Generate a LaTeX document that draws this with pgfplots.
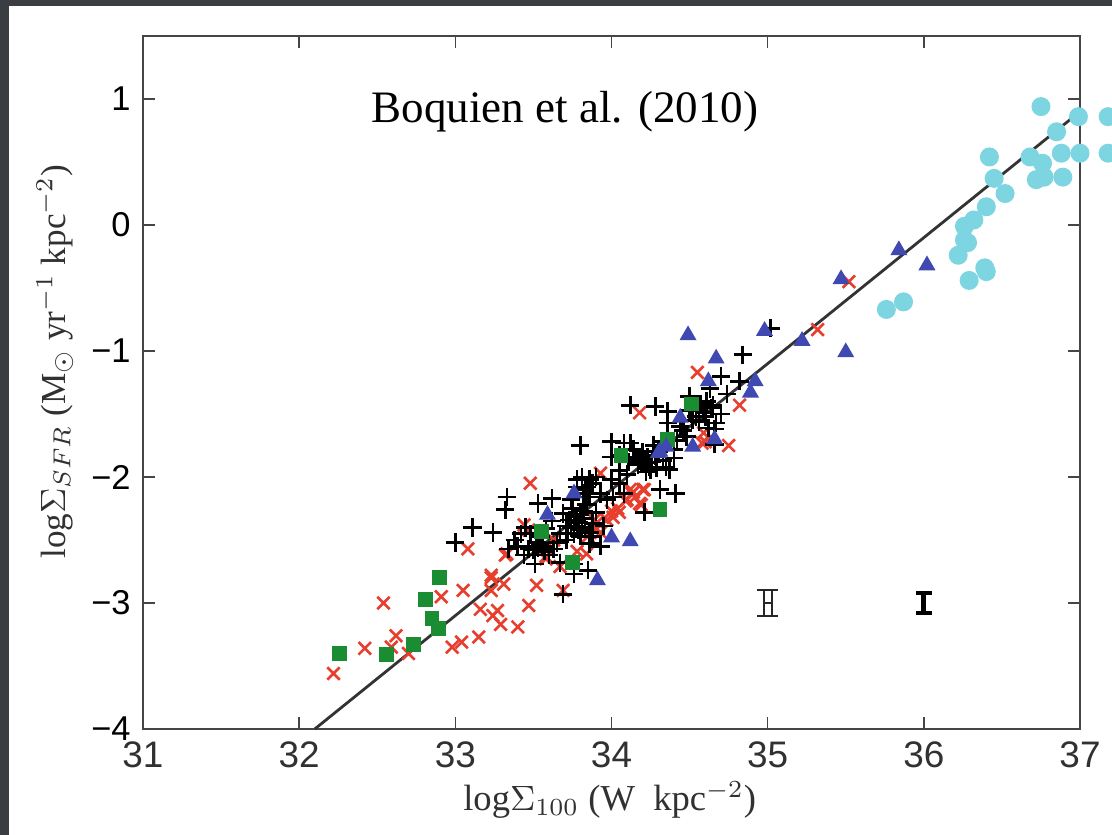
\documentclass[border=0pt]{standalone}
\usepackage{pgfplots}
\pgfplotsset{compat=1.18}
\usepackage{fontspec}
\setmainfont{Liberation Serif}
\setsansfont{Liberation Sans}
\definecolor{darkbg}{RGB}{58,61,66}
\definecolor{redx}{RGB}{232,62,45}
\definecolor{bluet}{RGB}{64,72,178}
\definecolor{greens}{RGB}{26,140,50}
\definecolor{cyanc}{RGB}{125,213,225}
\definecolor{axgray}{RGB}{70,70,70}
\begin{document}
\begin{tikzpicture}
\clip (0,0) rectangle (111.2mm,-83.5mm);
\fill[darkbg] (0,0) rectangle (111.2mm,-83.5mm);
\fill[white] (0.85mm,-0.6mm) rectangle (111.2mm,-83.5mm);
\begin{axis}[
  at={(14.3mm,-72.9mm)}, anchor=south west,
  scale only axis, width=93.7mm, height=69.3mm,
  xmin=31, xmax=37, ymin=-4, ymax=1.5,
  clip=false,
  xtick={31,32,33,34,35,36,37},
  xticklabels={31,32,33,34,35,36,37},
  ytick={-4,-3,-2,-1,0,1},
  yticklabels={−4,−3,−2,−1,0,1},
  tick align=inside,
  major tick length=1.2mm,
  axis line style={line width=0.6pt, color=axgray},
  every tick/.style={axgray, line width=0.45pt},
  xticklabel style={font=\sffamily\fontsize{10.5}{12}\selectfont, text=axgray!70!black},
  yticklabel style={font=\sffamily\fontsize{9.8}{11}\selectfont, text=black},
  xlabel={log$\Sigma_{100}$ (W\ \ kpc$^{-2}$)},
  ylabel={log$\Sigma_{SFR}$ (M$_\odot$ yr$^{-1}$ kpc$^{-2}$)},
  xlabel style={at={(axis description cs:0.498,-0.102)}, anchor=center, font=\fontsize{10.4}{12}\selectfont, text=axgray!70!black},
  ylabel style={at={(axis description cs:-0.094,0.53)}, anchor=center, rotate=0, font=\fontsize{10}{12}\selectfont, text=axgray!70!black},
]
% fit line
\addplot[draw=black!80, line width=0.8pt, no marks] coordinates {(32.1,-4) (37,0.9)};
% red crosses
\addplot[only marks, mark=x, mark size=2.5pt, mark options={line width=0.75pt, draw=redx}] coordinates {
(32.22,-3.56)(32.42,-3.36)(32.59,-3.35)(32.62,-3.26)(32.70,-3.40)(32.54,-3.00)(32.91,-2.95)(32.98,-3.35)
(33.04,-3.31)(33.15,-3.27)(33.05,-2.90)(33.16,-3.05)(33.23,-2.80)(33.23,-2.90)(33.31,-2.85)(33.27,-3.06)
(33.24,-3.10)(33.29,-3.17)(33.40,-3.19)(33.08,-2.57)(33.32,-2.62)(33.47,-3.02)(33.52,-2.86)(33.69,-2.90)
(33.48,-2.05)(34.18,-1.49)(34.82,-1.43)(34.75,-1.75)(34.60,-1.72)(34.55,-1.17)(34.59,-1.65)(34.58,-1.73)
(33.93,-1.97)(34.13,-2.13)(34.21,-2.10)(35.32,-0.83)(35.52,-0.45)(34.14,-2.12)(34.20,-2.10)(34.10,-2.18)
(34.18,-2.21)(34.05,-2.28)(34.01,-2.32)(33.97,-2.34)(33.89,-2.34)(33.90,-2.42)(33.85,-2.47)(33.63,-2.50)
(33.58,-2.55)(33.47,-2.42)(33.44,-2.38)(33.33,-2.61)(33.67,-2.71)(33.78,-2.59)(33.84,-2.61)(33.58,-2.63)
(33.23,-2.78)(33.58,-2.65)(33.93,-2.44)(33.91,-2.36)(34.00,-2.27)(34.04,-2.25)(34.09,-2.19)(34.15,-2.16)
(34.19,-2.22)(34.12,-2.10)
};
% black plus
\addplot[only marks, mark=+, mark size=2.6pt, mark options={line width=0.75pt, draw=black}] coordinates {
(33.00,-2.52)(33.11,-2.40)(33.24,-2.44)(33.33,-2.16)(33.32,-2.26)(33.53,-2.21)(33.62,-2.17)(33.80,-1.75)
(34.00,-1.72)(34.08,-1.73)(34.12,-1.73)(34.12,-1.43)(34.28,-1.44)(34.41,-2.13)(34.31,-2.10)(34.21,-2.28)
(34.84,-1.03)(35.02,-0.82)(34.70,-1.20)(34.82,-1.24)(34.63,-1.30)(34.74,-1.34)(34.50,-1.36)
(34.36,-1.48)(34.36,-1.57)(34.57,-1.42)(34.59,-1.49)(34.64,-1.45)(34.67,-1.57)(34.62,-1.61)(34.52,-1.55)
(34.56,-1.56)(34.46,-1.63)(34.48,-1.68)(34.42,-1.71)(34.66,-1.62)(34.66,-1.74)
(34.00,-1.84)(34.05,-1.83)(34.27,-1.75)(34.33,-1.72)(34.18,-1.85)(34.22,-1.89)(34.25,-1.94)(34.29,-1.93)
(34.35,-1.92)(34.37,-1.94)(34.33,-1.87)(34.22,-1.96)(34.14,-1.78)(34.16,-1.84)(34.11,-1.88)(34.20,-1.80)
(34.28,-1.83)(34.24,-1.92)(34.18,-1.87)(34.19,-1.88)(34.65,-1.43)(34.54,-1.52)
(34.21,-1.86)(34.17,-1.90)(34.26,-1.88)(34.23,-1.84)(34.30,-1.80)(34.40,-1.78)(34.44,-1.60)(34.50,-1.47)
(34.60,-1.52)(34.70,-1.50)(34.61,-1.40)(34.40,-1.85)(34.05,-1.95)(34.10,-1.98)
(33.81,-2.00)(33.86,-2.02)(33.84,-2.08)(33.88,-2.05)(33.93,-2.13)(33.82,-2.13)(33.86,-2.16)(33.78,-2.08)
(33.78,-2.02)(34.00,-2.02)(34.05,-2.05)(34.01,-2.16)(34.08,-2.13)(33.97,-2.18)
(33.69,-2.29)(33.73,-2.34)(33.78,-2.39)(33.71,-2.39)(33.67,-2.45)(33.76,-2.45)(33.80,-2.47)(33.71,-2.50)
(33.88,-2.37)(33.95,-2.39)(33.88,-2.47)(33.86,-2.53)(33.93,-2.55)(33.75,-2.25)(33.80,-2.30)(33.84,-2.22)
(33.90,-2.28)(33.74,-2.18)(33.78,-2.34)(33.77,-2.35)(33.79,-2.36)(33.81,-2.33)(33.76,-2.31)(33.83,-2.40)
(33.79,-2.42)(33.74,-2.40)(33.82,-2.27)(33.86,-2.44)(33.72,-2.45)(33.83,-2.10)(33.90,-2.00)
(33.48,-2.45)(33.52,-2.52)(33.42,-2.45)(33.38,-2.50)(33.34,-2.57)(33.47,-2.57)(33.51,-2.62)(33.51,-2.69)
(33.57,-2.59)(33.63,-2.57)(33.67,-2.68)(33.76,-2.69)(33.76,-2.77)(33.85,-2.74)(33.69,-2.93)(33.55,-2.47)
(33.58,-2.41)(33.62,-2.35)(33.56,-2.55)(33.45,-2.40)(33.52,-2.55)(33.53,-2.56)(33.50,-2.58)(33.54,-2.53)
(33.40,-2.55)(33.44,-2.62)(33.60,-2.62)(33.65,-2.52)
};
% green squares
\addplot[only marks, mark=square*, mark size=1.9pt, mark options={draw=greens, fill=greens}] coordinates {
(32.26,-3.40)(32.56,-3.41)(32.73,-3.33)(32.85,-3.12)(32.89,-3.20)(32.81,-2.97)(32.90,-2.80)
(33.55,-2.43)(33.75,-2.68)(34.06,-1.83)(34.31,-2.26)(34.51,-1.42)(34.36,-1.70)
};
% blue triangles
\addplot[only marks, mark=triangle*, mark size=2.4pt, mark options={draw=bluet, fill=bluet}] coordinates {
(35.84,-0.20)(35.47,-0.43)(34.49,-0.875)(34.98,-0.84)(35.22,-0.92)(35.50,-1.01)(34.67,-1.06)(34.62,-1.24)
(34.92,-1.24)(34.89,-1.33)(36.02,-0.32)(34.44,-1.53)(34.52,-1.76)(34.66,-1.70)(34.30,-1.81)(33.76,-2.13)
(33.59,-2.30)(34.00,-2.48)(34.12,-2.51)(33.91,-2.82)(34.35,-1.76)(34.31,-1.80)
};
% cyan circles
\addplot[only marks, mark=*, mark size=2.5pt, mark options={draw=cyanc, fill=cyanc}] coordinates {
(36.75,0.94)(36.85,0.74)(36.99,0.86)(36.42,0.54)(36.68,0.54)(36.76,0.49)(36.88,0.57)(36.45,0.37)
(36.72,0.36)(36.77,0.38)(36.89,0.38)(36.52,0.25)(36.40,0.145)(36.32,0.04)(36.26,-0.01)(36.26,-0.12)
(36.28,-0.14)(36.22,-0.24)(36.39,-0.34)(36.40,-0.37)(36.29,-0.44)(35.87,-0.61)(35.76,-0.67)(37.00,0.57)
(37.18,0.86)(37.18,0.57)
};
% error bars
\addplot[sharp plot, no markers, draw=black!85, line width=0.6pt,
  error bars/.cd, y dir=both, y explicit, error bar style={line width=0.6pt, draw=black!85}, error mark=|, error mark options={mark size=1.8pt, line width=0.6pt, draw=black!85}]
  coordinates {(34.975,-3) +- (0,0.1) (35.025,-3) +- (0,0.1)};
\addplot[sharp plot, no markers, draw=black, line width=1.4pt,
  error bars/.cd, y dir=both, y explicit, error bar style={line width=1.4pt, draw=black}, error mark=|, error mark options={mark size=2.3pt, line width=1pt, draw=black}]
  coordinates {(36,-3) +- (0,0.08)};
\end{axis}
\node[font=\fontsize{12.8}{14}\selectfont] at (56.5mm,-11.2mm) {Boquien et al. (2010)};
\end{tikzpicture}
\end{document}
